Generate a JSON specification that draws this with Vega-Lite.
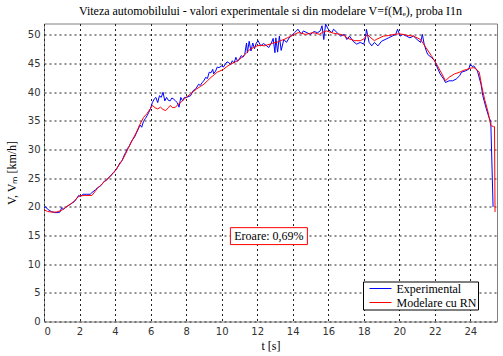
{
"$schema":"https://vega.github.io/schema/vega-lite/v6.json",
"width":453,"height":298,
"autosize":{"type":"none"},
"padding":{"left":44,"top":23.5,"right":6,"bottom":34.5},
"background":"white",
"config":{"view":{"stroke":"#808080","strokeWidth":1},
 "axis":{"domain":false,"ticks":false,"grid":true,"labelOverlap":false,"gridColor":"#222","gridDash":[2,3],"gridOpacity":1,"gridWidth":1,"labelFont":"DejaVu Sans","labelFontSize":10,"labelColor":"#333","titleFont":"Liberation Serif","titleFontSize":12,"titleFontWeight":"normal","titleColor":"#000"}},
"title":{"text":"Viteza automobilului - valori experimentale si din modelare V=f(Mₑ), proba I1n","font":"Liberation Serif","fontSize":12,"fontWeight":"normal","color":"#000","anchor":"middle","frame":"group","offset":6,"baseline":"bottom","dy":12},
"data":{"values":[
{"s":"Experimental","t":0.0,"v":19.9},{"s":"Experimental","t":0.1,"v":20.0},{"s":"Experimental","t":0.2,"v":19.6},{"s":"Experimental","t":0.4,"v":19.2},{"s":"Experimental","t":0.6,"v":19.0},{"s":"Experimental","t":0.8,"v":19.0},{"s":"Experimental","t":0.9,"v":19.1},{"s":"Experimental","t":1.0,"v":19.9},{"s":"Experimental","t":1.1,"v":19.6},{"s":"Experimental","t":1.3,"v":20.1},{"s":"Experimental","t":1.5,"v":20.5},{"s":"Experimental","t":1.7,"v":20.9},{"s":"Experimental","t":1.8,"v":21.3},{"s":"Experimental","t":1.95,"v":22.0},{"s":"Experimental","t":2.05,"v":21.8},{"s":"Experimental","t":2.2,"v":22.2},{"s":"Experimental","t":2.4,"v":22.2},{"s":"Experimental","t":2.6,"v":22.2},{"s":"Experimental","t":2.7,"v":22.5},{"s":"Experimental","t":2.9,"v":23.0},{"s":"Experimental","t":3.0,"v":23.3},{"s":"Experimental","t":3.2,"v":23.7},{"s":"Experimental","t":3.4,"v":24.5},{"s":"Experimental","t":3.5,"v":24.6},{"s":"Experimental","t":3.6,"v":25.0},{"s":"Experimental","t":3.75,"v":25.4},{"s":"Experimental","t":3.9,"v":26.0},{"s":"Experimental","t":4.0,"v":26.3},{"s":"Experimental","t":4.1,"v":26.7},{"s":"Experimental","t":4.3,"v":27.8},{"s":"Experimental","t":4.4,"v":28.1},{"s":"Experimental","t":4.5,"v":28.9},{"s":"Experimental","t":4.6,"v":29.5},{"s":"Experimental","t":4.7,"v":30.2},{"s":"Experimental","t":4.8,"v":30.6},{"s":"Experimental","t":4.9,"v":31.3},{"s":"Experimental","t":5.0,"v":31.8},{"s":"Experimental","t":5.1,"v":32.2},{"s":"Experimental","t":5.2,"v":32.9},{"s":"Experimental","t":5.3,"v":33.5},{"s":"Experimental","t":5.4,"v":34.3},{"s":"Experimental","t":5.5,"v":33.9},{"s":"Experimental","t":5.6,"v":34.9},{"s":"Experimental","t":5.7,"v":35.4},{"s":"Experimental","t":5.8,"v":35.9},{"s":"Experimental","t":5.9,"v":36.5},{"s":"Experimental","t":6.0,"v":37.2},{"s":"Experimental","t":6.1,"v":38.2},{"s":"Experimental","t":6.2,"v":38.8},{"s":"Experimental","t":6.3,"v":39.1},{"s":"Experimental","t":6.4,"v":38.2},{"s":"Experimental","t":6.5,"v":39.4},{"s":"Experimental","t":6.6,"v":39.1},{"s":"Experimental","t":6.7,"v":40.0},{"s":"Experimental","t":6.8,"v":38.5},{"s":"Experimental","t":6.9,"v":39.1},{"s":"Experimental","t":7.0,"v":38.6},{"s":"Experimental","t":7.1,"v":38.5},{"s":"Experimental","t":7.2,"v":39.0},{"s":"Experimental","t":7.3,"v":38.8},{"s":"Experimental","t":7.4,"v":38.5},{"s":"Experimental","t":7.5,"v":38.2},{"s":"Experimental","t":7.6,"v":37.4},{"s":"Experimental","t":7.7,"v":39.1},{"s":"Experimental","t":7.8,"v":38.5},{"s":"Experimental","t":7.9,"v":39.1},{"s":"Experimental","t":8.0,"v":39.1},{"s":"Experimental","t":8.1,"v":39.2},{"s":"Experimental","t":8.25,"v":39.4},{"s":"Experimental","t":8.4,"v":40.3},{"s":"Experimental","t":8.55,"v":40.6},{"s":"Experimental","t":8.7,"v":41.4},{"s":"Experimental","t":8.8,"v":41.2},{"s":"Experimental","t":8.9,"v":41.7},{"s":"Experimental","t":9.0,"v":42.0},{"s":"Experimental","t":9.1,"v":42.6},{"s":"Experimental","t":9.2,"v":42.4},{"s":"Experimental","t":9.3,"v":43.5},{"s":"Experimental","t":9.4,"v":43.4},{"s":"Experimental","t":9.5,"v":44.0},{"s":"Experimental","t":9.55,"v":43.2},{"s":"Experimental","t":9.66,"v":43.7},{"s":"Experimental","t":9.75,"v":44.4},{"s":"Experimental","t":9.85,"v":44.3},{"s":"Experimental","t":10.0,"v":44.6},{"s":"Experimental","t":10.1,"v":44.4},{"s":"Experimental","t":10.2,"v":44.9},{"s":"Experimental","t":10.3,"v":45.3},{"s":"Experimental","t":10.4,"v":45.2},{"s":"Experimental","t":10.5,"v":44.8},{"s":"Experimental","t":10.6,"v":45.5},{"s":"Experimental","t":10.7,"v":45.1},{"s":"Experimental","t":10.8,"v":46.1},{"s":"Experimental","t":10.9,"v":45.4},{"s":"Experimental","t":11.0,"v":45.8},{"s":"Experimental","t":11.1,"v":46.4},{"s":"Experimental","t":11.2,"v":46.1},{"s":"Experimental","t":11.3,"v":46.6},{"s":"Experimental","t":11.4,"v":48.6},{"s":"Experimental","t":11.45,"v":46.9},{"s":"Experimental","t":11.55,"v":48.9},{"s":"Experimental","t":11.65,"v":47.2},{"s":"Experimental","t":11.75,"v":48.6},{"s":"Experimental","t":11.85,"v":47.6},{"s":"Experimental","t":11.95,"v":48.6},{"s":"Experimental","t":12.05,"v":49.0},{"s":"Experimental","t":12.2,"v":48.1},{"s":"Experimental","t":12.35,"v":48.5},{"s":"Experimental","t":12.5,"v":48.2},{"s":"Experimental","t":12.65,"v":47.8},{"s":"Experimental","t":12.8,"v":48.6},{"s":"Experimental","t":12.9,"v":49.4},{"s":"Experimental","t":13.0,"v":46.9},{"s":"Experimental","t":13.05,"v":49.5},{"s":"Experimental","t":13.15,"v":47.0},{"s":"Experimental","t":13.25,"v":49.8},{"s":"Experimental","t":13.35,"v":47.3},{"s":"Experimental","t":13.5,"v":49.2},{"s":"Experimental","t":13.65,"v":48.7},{"s":"Experimental","t":13.8,"v":49.5},{"s":"Experimental","t":13.95,"v":49.9},{"s":"Experimental","t":14.1,"v":50.4},{"s":"Experimental","t":14.3,"v":51.0},{"s":"Experimental","t":14.4,"v":50.5},{"s":"Experimental","t":14.5,"v":50.2},{"s":"Experimental","t":14.6,"v":50.7},{"s":"Experimental","t":14.8,"v":50.4},{"s":"Experimental","t":15.0,"v":50.1},{"s":"Experimental","t":15.2,"v":50.6},{"s":"Experimental","t":15.4,"v":50.4},{"s":"Experimental","t":15.55,"v":50.7},{"s":"Experimental","t":15.65,"v":51.6},{"s":"Experimental","t":15.75,"v":49.2},{"s":"Experimental","t":15.85,"v":51.9},{"s":"Experimental","t":16.0,"v":51.0},{"s":"Experimental","t":16.1,"v":50.7},{"s":"Experimental","t":16.2,"v":50.4},{"s":"Experimental","t":16.3,"v":51.0},{"s":"Experimental","t":16.5,"v":50.4},{"s":"Experimental","t":16.7,"v":49.8},{"s":"Experimental","t":16.9,"v":50.1},{"s":"Experimental","t":17.05,"v":49.2},{"s":"Experimental","t":17.2,"v":49.8},{"s":"Experimental","t":17.4,"v":48.9},{"s":"Experimental","t":17.6,"v":48.4},{"s":"Experimental","t":17.8,"v":48.7},{"s":"Experimental","t":18.0,"v":48.4},{"s":"Experimental","t":18.1,"v":49.5},{"s":"Experimental","t":18.15,"v":51.0},{"s":"Experimental","t":18.3,"v":48.7},{"s":"Experimental","t":18.45,"v":48.1},{"s":"Experimental","t":18.6,"v":48.7},{"s":"Experimental","t":18.8,"v":48.1},{"s":"Experimental","t":19.0,"v":48.9},{"s":"Experimental","t":19.2,"v":49.2},{"s":"Experimental","t":19.4,"v":49.5},{"s":"Experimental","t":19.6,"v":49.8},{"s":"Experimental","t":19.8,"v":50.1},{"s":"Experimental","t":19.9,"v":51.0},{"s":"Experimental","t":20.05,"v":49.8},{"s":"Experimental","t":20.2,"v":50.1},{"s":"Experimental","t":20.4,"v":49.8},{"s":"Experimental","t":20.6,"v":49.5},{"s":"Experimental","t":20.8,"v":49.8},{"s":"Experimental","t":21.0,"v":49.2},{"s":"Experimental","t":21.2,"v":48.7},{"s":"Experimental","t":21.3,"v":50.1},{"s":"Experimental","t":21.4,"v":48.4},{"s":"Experimental","t":21.5,"v":47.4},{"s":"Experimental","t":21.6,"v":46.6},{"s":"Experimental","t":21.8,"v":46.1},{"s":"Experimental","t":22.0,"v":45.5},{"s":"Experimental","t":22.1,"v":44.6},{"s":"Experimental","t":22.3,"v":43.2},{"s":"Experimental","t":22.5,"v":42.3},{"s":"Experimental","t":22.6,"v":41.7},{"s":"Experimental","t":22.8,"v":42.0},{"s":"Experimental","t":23.0,"v":42.0},{"s":"Experimental","t":23.2,"v":42.3},{"s":"Experimental","t":23.4,"v":42.9},{"s":"Experimental","t":23.5,"v":43.5},{"s":"Experimental","t":23.7,"v":43.7},{"s":"Experimental","t":23.9,"v":44.0},{"s":"Experimental","t":24.0,"v":44.9},{"s":"Experimental","t":24.1,"v":44.5},{"s":"Experimental","t":24.2,"v":44.6},{"s":"Experimental","t":24.4,"v":43.7},{"s":"Experimental","t":24.6,"v":41.4},{"s":"Experimental","t":24.7,"v":39.4},{"s":"Experimental","t":24.9,"v":37.1},{"s":"Experimental","t":25.05,"v":35.6},{"s":"Experimental","t":25.15,"v":34.9},{"s":"Experimental","t":25.28,"v":20.0},
{"s":"Modelare cu RN","t":0.0,"v":19.5},{"s":"Modelare cu RN","t":0.2,"v":19.2},{"s":"Modelare cu RN","t":0.4,"v":19.1},{"s":"Modelare cu RN","t":0.7,"v":19.1},{"s":"Modelare cu RN","t":0.9,"v":19.3},{"s":"Modelare cu RN","t":1.0,"v":19.4},{"s":"Modelare cu RN","t":1.3,"v":20.1},{"s":"Modelare cu RN","t":1.5,"v":20.5},{"s":"Modelare cu RN","t":1.7,"v":21.0},{"s":"Modelare cu RN","t":1.9,"v":21.7},{"s":"Modelare cu RN","t":2.0,"v":21.9},{"s":"Modelare cu RN","t":2.3,"v":22.0},{"s":"Modelare cu RN","t":2.7,"v":22.0},{"s":"Modelare cu RN","t":2.9,"v":22.8},{"s":"Modelare cu RN","t":3.0,"v":23.2},{"s":"Modelare cu RN","t":3.2,"v":23.8},{"s":"Modelare cu RN","t":3.4,"v":24.4},{"s":"Modelare cu RN","t":3.6,"v":24.9},{"s":"Modelare cu RN","t":3.8,"v":25.6},{"s":"Modelare cu RN","t":4.0,"v":26.2},{"s":"Modelare cu RN","t":4.2,"v":27.2},{"s":"Modelare cu RN","t":4.4,"v":28.1},{"s":"Modelare cu RN","t":4.6,"v":29.3},{"s":"Modelare cu RN","t":4.8,"v":30.6},{"s":"Modelare cu RN","t":5.0,"v":31.8},{"s":"Modelare cu RN","t":5.2,"v":33.0},{"s":"Modelare cu RN","t":5.4,"v":34.4},{"s":"Modelare cu RN","t":5.6,"v":35.6},{"s":"Modelare cu RN","t":5.8,"v":36.3},{"s":"Modelare cu RN","t":6.0,"v":37.2},{"s":"Modelare cu RN","t":6.1,"v":37.7},{"s":"Modelare cu RN","t":6.25,"v":37.3},{"s":"Modelare cu RN","t":6.4,"v":37.1},{"s":"Modelare cu RN","t":6.56,"v":37.4},{"s":"Modelare cu RN","t":6.7,"v":37.0},{"s":"Modelare cu RN","t":6.85,"v":36.8},{"s":"Modelare cu RN","t":7.0,"v":37.3},{"s":"Modelare cu RN","t":7.1,"v":37.7},{"s":"Modelare cu RN","t":7.25,"v":37.3},{"s":"Modelare cu RN","t":7.4,"v":37.4},{"s":"Modelare cu RN","t":7.55,"v":37.9},{"s":"Modelare cu RN","t":7.7,"v":38.2},{"s":"Modelare cu RN","t":7.85,"v":38.7},{"s":"Modelare cu RN","t":8.0,"v":39.1},{"s":"Modelare cu RN","t":8.25,"v":39.7},{"s":"Modelare cu RN","t":8.4,"v":40.1},{"s":"Modelare cu RN","t":8.6,"v":40.6},{"s":"Modelare cu RN","t":8.8,"v":41.0},{"s":"Modelare cu RN","t":9.0,"v":41.4},{"s":"Modelare cu RN","t":9.2,"v":42.0},{"s":"Modelare cu RN","t":9.4,"v":42.6},{"s":"Modelare cu RN","t":9.6,"v":43.1},{"s":"Modelare cu RN","t":9.75,"v":43.5},{"s":"Modelare cu RN","t":9.9,"v":43.7},{"s":"Modelare cu RN","t":10.1,"v":44.0},{"s":"Modelare cu RN","t":10.3,"v":44.5},{"s":"Modelare cu RN","t":10.5,"v":44.9},{"s":"Modelare cu RN","t":10.7,"v":45.2},{"s":"Modelare cu RN","t":10.9,"v":45.5},{"s":"Modelare cu RN","t":11.1,"v":46.0},{"s":"Modelare cu RN","t":11.25,"v":46.4},{"s":"Modelare cu RN","t":11.4,"v":46.9},{"s":"Modelare cu RN","t":11.6,"v":47.5},{"s":"Modelare cu RN","t":11.8,"v":47.8},{"s":"Modelare cu RN","t":12.0,"v":48.1},{"s":"Modelare cu RN","t":12.2,"v":48.2},{"s":"Modelare cu RN","t":12.4,"v":48.1},{"s":"Modelare cu RN","t":12.6,"v":48.3},{"s":"Modelare cu RN","t":12.75,"v":48.4},{"s":"Modelare cu RN","t":12.9,"v":48.6},{"s":"Modelare cu RN","t":13.1,"v":48.7},{"s":"Modelare cu RN","t":13.3,"v":49.0},{"s":"Modelare cu RN","t":13.5,"v":49.2},{"s":"Modelare cu RN","t":13.7,"v":49.5},{"s":"Modelare cu RN","t":13.9,"v":49.8},{"s":"Modelare cu RN","t":14.1,"v":50.1},{"s":"Modelare cu RN","t":14.3,"v":50.4},{"s":"Modelare cu RN","t":14.5,"v":50.3},{"s":"Modelare cu RN","t":14.7,"v":50.1},{"s":"Modelare cu RN","t":14.9,"v":50.2},{"s":"Modelare cu RN","t":15.1,"v":50.4},{"s":"Modelare cu RN","t":15.3,"v":50.3},{"s":"Modelare cu RN","t":15.5,"v":50.1},{"s":"Modelare cu RN","t":15.7,"v":50.5},{"s":"Modelare cu RN","t":15.9,"v":50.7},{"s":"Modelare cu RN","t":16.1,"v":50.5},{"s":"Modelare cu RN","t":16.3,"v":50.3},{"s":"Modelare cu RN","t":16.5,"v":50.2},{"s":"Modelare cu RN","t":16.7,"v":50.1},{"s":"Modelare cu RN","t":16.9,"v":49.9},{"s":"Modelare cu RN","t":17.1,"v":49.4},{"s":"Modelare cu RN","t":17.3,"v":49.2},{"s":"Modelare cu RN","t":17.5,"v":49.0},{"s":"Modelare cu RN","t":17.8,"v":49.0},{"s":"Modelare cu RN","t":18.0,"v":49.3},{"s":"Modelare cu RN","t":18.2,"v":50.1},{"s":"Modelare cu RN","t":18.4,"v":49.5},{"s":"Modelare cu RN","t":18.6,"v":49.0},{"s":"Modelare cu RN","t":18.7,"v":49.2},{"s":"Modelare cu RN","t":18.9,"v":49.5},{"s":"Modelare cu RN","t":19.1,"v":49.8},{"s":"Modelare cu RN","t":19.4,"v":49.9},{"s":"Modelare cu RN","t":19.7,"v":50.1},{"s":"Modelare cu RN","t":20.0,"v":50.2},{"s":"Modelare cu RN","t":20.2,"v":50.1},{"s":"Modelare cu RN","t":20.5,"v":49.9},{"s":"Modelare cu RN","t":20.8,"v":49.8},{"s":"Modelare cu RN","t":21.0,"v":49.5},{"s":"Modelare cu RN","t":21.2,"v":49.2},{"s":"Modelare cu RN","t":21.35,"v":48.5},{"s":"Modelare cu RN","t":21.5,"v":47.8},{"s":"Modelare cu RN","t":21.8,"v":46.4},{"s":"Modelare cu RN","t":22.1,"v":44.9},{"s":"Modelare cu RN","t":22.4,"v":43.2},{"s":"Modelare cu RN","t":22.6,"v":42.0},{"s":"Modelare cu RN","t":22.8,"v":42.6},{"s":"Modelare cu RN","t":23.1,"v":43.2},{"s":"Modelare cu RN","t":23.4,"v":43.5},{"s":"Modelare cu RN","t":23.6,"v":43.8},{"s":"Modelare cu RN","t":23.8,"v":44.0},{"s":"Modelare cu RN","t":24.0,"v":44.2},{"s":"Modelare cu RN","t":24.2,"v":44.3},{"s":"Modelare cu RN","t":24.35,"v":44.0},{"s":"Modelare cu RN","t":24.5,"v":43.5},{"s":"Modelare cu RN","t":24.65,"v":40.9},{"s":"Modelare cu RN","t":24.8,"v":38.8},{"s":"Modelare cu RN","t":25.0,"v":36.5},{"s":"Modelare cu RN","t":25.15,"v":34.2},{"s":"Modelare cu RN","t":25.3,"v":34.0},{"s":"Modelare cu RN","t":25.36,"v":34.0},{"s":"Modelare cu RN","t":25.39,"v":19.1}
]},
"layer":[
{"mark":{"type":"line","strokeWidth":1,"clip":true},
 "encoding":{
  "x":{"field":"t","type":"quantitative","scale":{"domain":[0,25.5],"nice":false,"zero":false},"axis":{"values":[0,2,4,6,8,10,12,14,16,18,20,22,24],"tickCount":13,"labelPadding":5,"title":"t [s]","titleX":226.5,"titleY":24,"titleBaseline":"middle","titleAlign":"center"}},
  "y":{"field":"v","type":"quantitative","scale":{"domain":[0,52],"nice":false},"axis":{"values":[0,5,10,15,20,25,30,35,40,45,50],"tickCount":11,"labelPadding":4,"title":"V, Vₘ [km/h]","titleX":-33,"titleY":149,"titleAngle":-90,"titleAlign":"center","titleBaseline":"middle"}},
  "color":{"field":"s","type":"nominal","scale":{"domain":["Experimental","Modelare cu RN"],"range":["#0000ff","#ff0000"]},
   "legend":{"title":null,"orient":"none","legendX":319,"legendY":258,"strokeColor":"#000","fillColor":"#fff","padding":1,"symbolType":"M-2,0H2","symbolSize":121,"symbolStrokeWidth":1,"symbolOffset":10.5,"labelFont":"Liberation Serif","labelFontSize":12,"labelColor":"#000","labelOffset":10,"rowPadding":2,
    "encode":{"symbols":{"update":{"stroke":{"scale":"color","field":"value"},"fill":{"value":"transparent"},"strokeWidth":{"value":1}}}}}},
  "order":{"field":"t","type":"quantitative"}
 }},
{"data":{"values":[{"t":12.66,"v":14.9,"label":"Eroare: 0,69%"}]},
 "mark":{"type":"point","shape":"M-1,-0.22H1V0.22H-1Z","size":5929,"filled":true,"fill":"#fff","stroke":"#ff0000","strokeWidth":1,"opacity":1},
 "encoding":{"x":{"field":"t","type":"quantitative"},"y":{"field":"v","type":"quantitative"}}},
{"data":{"values":[{"t":12.66,"v":14.9,"label":"Eroare: 0,69%"}]},
 "mark":{"type":"text","font":"Liberation Serif","fontSize":12,"color":"#000","align":"center","baseline":"middle"},
 "encoding":{"x":{"field":"t","type":"quantitative"},"y":{"field":"v","type":"quantitative"},"text":{"field":"label"}}}
]
}
